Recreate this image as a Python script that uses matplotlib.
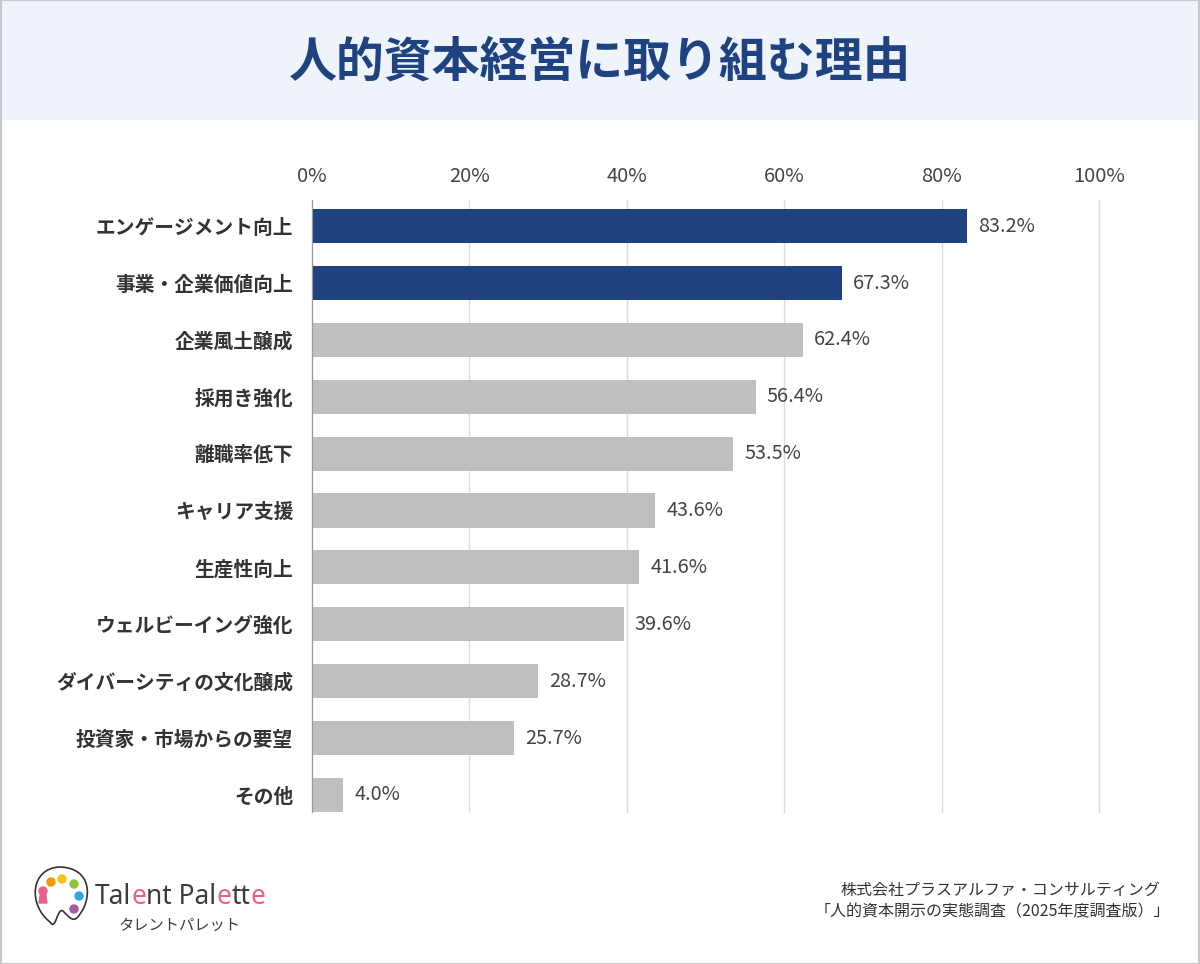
import matplotlib.pyplot as plt
import matplotlib.patches as mpatches
from matplotlib.path import Path

plt.rcParams['font.family'] = ['Noto Sans CJK JP', 'DejaVu Sans']

categories = ['エンゲージメント向上', '事業・企業価値向上', '企業風土醸成', '採用き強化', '離職率低下',
              'キャリア支援', '生産性向上', 'ウェルビーイング強化', 'ダイバーシティの文化醸成',
              '投資家・市場からの要望', 'その他']
values = [83.2, 67.3, 62.4, 56.4, 53.5, 43.6, 41.6, 39.6, 28.7, 25.7, 4.0]
highlight = [True, True, False, False, False, False, False, False, False, False, False]
xticks = [0, 20, 40, 60, 80, 100]

navy = '#1f4380'
gray = '#bfbfbf'

fig = plt.figure(figsize=(12, 9.64), dpi=100)
fig.patch.set_facecolor('white')

# bandeau du titre
fig.add_artist(mpatches.Rectangle((0, 1 - 120 / 964), 1, 120 / 964, transform=fig.transFigure,
                                  facecolor='#eef3fc', edgecolor='none', zorder=0))
fig.add_artist(mpatches.Rectangle((0.0005, 0.0005), 0.999, 0.999, transform=fig.transFigure,
                                  facecolor='none', edgecolor='#c8c8c8', lw=1.5, zorder=5))
fig.text(0.5, 1 - 62 / 964, '人的資本経営に取り組む理由', ha='center', va='center',
         fontsize=34.5, fontweight='bold', color=navy)

ax = fig.add_axes([312 / 1200, 1 - 812 / 964, (1099 - 312) / 1200, (812 - 200) / 964])
y = list(range(len(categories)))
colors = [navy if h else gray for h in highlight]
ax.barh(y, values, height=0.6, color=colors, zorder=3)
for yi, v in zip(y, values):
    ax.text(v + 1.4, yi, f'{v:.1f}%', va='center', ha='left', fontsize=14.3, color='#444444')

ax.set_xlim(0, 100)
ax.set_ylim(10.3, -0.46)
ax.set_xticks(xticks)
ax.set_xticklabels([f'{t}%' for t in xticks], fontsize=14.5, color='#444444')
ax.xaxis.tick_top()
ax.tick_params(axis='x', length=0, pad=9)
ax.set_yticks(y)
ax.set_yticklabels(categories, fontsize=14.2, fontweight='bold', color='#333333')
ax.tick_params(axis='y', length=0, pad=13.5)
ax.grid(axis='x', color='#dcdcdc', lw=1, zorder=0)
for l in ax.get_xgridlines():
    l.set_clip_on(False)
for s in ['top', 'right', 'bottom']:
    ax.spines[s].set_visible(False)
ax.spines['left'].set_color('#999999')
ax.spines['left'].set_zorder(4)

# logo
lx = fig.add_axes([0, 0, 1, 1], zorder=-1)
lx.set_xlim(0, 1200)
lx.set_ylim(964, 0)
lx.axis('off')
verts = [(50, 922), (28, 905), (30, 868), (60, 867), (92, 868), (92, 898), (80, 914),
         (74, 924), (70, 918), (63, 911), (57, 907), (56, 932), (50, 922)]
codes = [Path.MOVETO] + [Path.CURVE4] * 12
lx.add_patch(mpatches.PathPatch(Path(verts, codes), facecolor='none', edgecolor='#333333', lw=1.2))
for cx, cy, c in [(51, 882, '#f39800'), (62, 879, '#f5c518'), (74, 884, '#8cc63f'),
                  (79, 896, '#29a8e0'), (74, 909, '#a55aa5')]:
    lx.add_patch(mpatches.Circle((cx, cy), 4, color=c))
lx.add_patch(mpatches.Circle((43, 891), 4, color='#e8618c'))
lx.add_patch(mpatches.Polygon([(40.5, 893), (45.5, 893), (47, 903), (39, 903)], color='#e8618c'))

x0 = 95
parts = [('Tal', '#3c3c3c'), ('e', '#e8618c'), ('nt Pal', '#3c3c3c'), ('e', '#e8618c'),
         ('tt', '#3c3c3c'), ('e', '#e8618c')]
t = None
for s, c in parts:
    if t is None:
        t = lx.text(x0, 897, s, fontsize=19, color=c, va='center', ha='left', family='Noto Sans',
                    fontweight='medium')
    else:
        t = lx.annotate(s, xycoords=t, xy=(1, 0), va='bottom', ha='left', fontsize=19,
                        color=c, family='Noto Sans', fontweight='medium')
lx.text(180, 925, 'タレントパレット', fontsize=11, color='#3c3c3c', ha='center', va='center')

fig.text(1160 / 1200, 1 - 890 / 964, '株式会社プラスアルファ・コンサルティング', ha='right', va='center',
         fontsize=11.5, color='#333333')
fig.text(1170 / 1200, 1 - 912 / 964, '「人的資本開示の実態調査（2025年度調査版）」', ha='right', va='center',
         fontsize=11.5, color='#333333')

fig.savefig('out.png', dpi=100)
